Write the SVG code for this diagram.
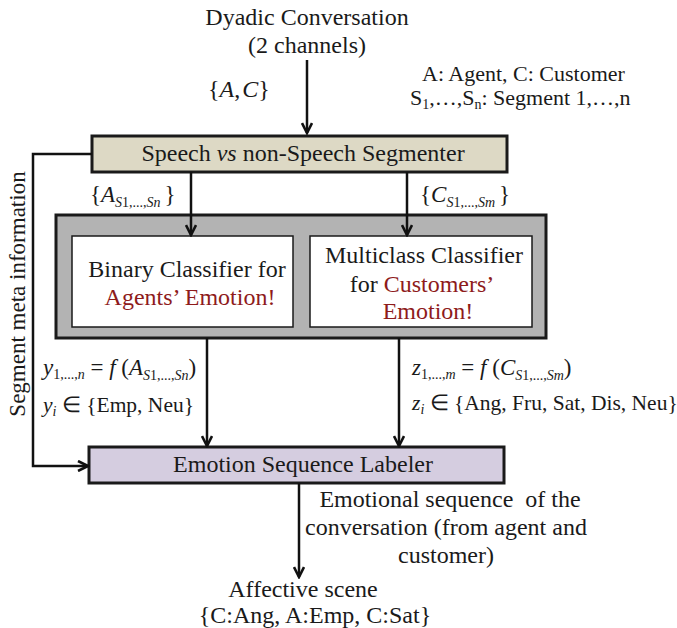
<svg xmlns="http://www.w3.org/2000/svg" width="677" height="628" viewBox="0 0 677 628">
  <style>
    text { font-family: "Liberation Serif", "Times New Roman", serif; font-size: 24px; fill: #1a1a1a; }
    .sm { font-size: 22px; }
    .md { font-size: 23px; }
    .el { font-size: 21.5px; }
    .it { font-style: italic; }
    .sub { font-size: 14px; }
    .red { fill: #8e1b1b; }
    .conn { fill: none; stroke: #111; stroke-width: 2.5; }
    .thick { stroke: #1a1a1a; stroke-width: 3; }
  </style>
  <defs>
    <marker id="arrow" viewBox="0 0 14 12" refX="12" refY="6" markerWidth="14" markerHeight="12" markerUnits="userSpaceOnUse" orient="auto">
      <polyline points="2,1 12,6 2,11" fill="none" stroke="#111" stroke-width="2.6"/>
    </marker>
  </defs>

  <!-- inputs and legend -->
  <g id="input">
    <text x="307" y="25" text-anchor="middle">Dyadic Conversation</text>
    <text x="307" y="53" text-anchor="middle">(2 channels)</text>
    <text x="208" y="97">{<tspan class="it">A</tspan>,<tspan class="it" dx="2">C</tspan>}</text>
  </g>
  <g id="legend">
    <text class="sm" x="422" y="81">A: Agent, C: Customer</text>
    <text class="sm" x="410" y="105">S<tspan class="sub" dy="4">1</tspan><tspan dy="-4">,…,S</tspan><tspan class="sub" dy="4">n</tspan><tspan dy="-4">: Segment 1,…,n</tspan></text>
  </g>

  <!-- segmenter -->
  <g id="segmenter">
    <rect x="92" y="136" width="415" height="36" fill="#ddd9c5" class="thick"/>
    <text x="303" y="161" text-anchor="middle">Speech <tspan class="it">vs</tspan> non-Speech Segmenter</text>
  </g>

  <!-- classifiers -->
  <g id="classifiers">
    <rect x="56" y="215" width="490" height="123" fill="#b3b3b3" class="thick"/>
    <g id="binary">
      <rect x="72" y="236" width="221" height="91" fill="#fff" stroke="#1a1a1a" stroke-width="1.5"/>
      <text x="187" y="277" text-anchor="middle">Binary Classifier for</text>
      <text x="190" y="305" text-anchor="middle" class="red">Agents’ Emotion!</text>
    </g>
    <g id="multiclass">
      <rect x="310" y="236" width="222" height="91" fill="#fff" stroke="#1a1a1a" stroke-width="1.5"/>
      <text x="424" y="263" text-anchor="middle">Multiclass Classifier</text>
      <text x="422" y="292" text-anchor="middle">for <tspan class="red">Customers’</tspan></text>
      <text x="428" y="319" text-anchor="middle" class="red">Emotion!</text>
    </g>
  </g>

  <!-- labeler -->
  <g id="labeler">
    <rect x="89" y="447" width="415" height="36" fill="#d5cde0" class="thick"/>
    <text x="303" y="472" text-anchor="middle">Emotion Sequence Labeler</text>
  </g>

  <!-- output -->
  <g id="output">
    <text x="303" y="597" text-anchor="middle">Affective scene</text>
    <text x="315" y="623" text-anchor="middle">{C:Ang, A:Emp, C:Sat}</text>
  </g>

  <!-- connectors -->
  <g id="connectors">
    <path class="conn" d="M307,60 V133" marker-end="url(#arrow)"/>
    <path class="conn" d="M191,172 V235" marker-end="url(#arrow)"/>
    <path class="conn" d="M407,172 V235" marker-end="url(#arrow)"/>
    <path class="conn" d="M207,338 V446" marker-end="url(#arrow)"/>
    <path class="conn" d="M399,338 V446" marker-end="url(#arrow)"/>
    <path class="conn" d="M299,483 V577" marker-end="url(#arrow)"/>
    <path class="conn" d="M92,154 H33 V466 H88" stroke-width="3" marker-end="url(#arrow)"/>
  </g>

  <!-- connector labels -->
  <g id="labels">
    <text class="md" x="90" y="202">{<tspan class="it">A</tspan><tspan class="sub it" dy="5">S</tspan><tspan class="sub">1,...,</tspan><tspan class="sub it">Sn</tspan><tspan dy="-5" dx="4">}</tspan></text>
    <text class="md" x="420" y="202">{<tspan class="it">C</tspan><tspan class="sub it" dy="5">S</tspan><tspan class="sub">1,...,</tspan><tspan class="sub it">Sm</tspan><tspan dy="-5" dx="4">}</tspan></text>
    <text class="md" x="43" y="375"><tspan class="it">y</tspan><tspan class="sub" dy="4">1,...,</tspan><tspan class="sub it">n</tspan><tspan dy="-4"> = </tspan><tspan class="it">f</tspan> (<tspan class="it">A</tspan><tspan class="sub it" dy="5">S</tspan><tspan class="sub">1,...,</tspan><tspan class="sub it">Sn</tspan><tspan dy="-5">)</tspan></text>
    <text class="el" x="43" y="412"><tspan class="it">y</tspan><tspan class="sub it" dy="4">i</tspan><tspan dy="-4"> ∈ {Emp, Neu}</tspan></text>
    <text class="md" x="412" y="375"><tspan class="it">z</tspan><tspan class="sub" dy="4">1,...,</tspan><tspan class="sub it">m</tspan><tspan dy="-4"> = </tspan><tspan class="it">f</tspan> (<tspan class="it">C</tspan><tspan class="sub it" dy="5">S</tspan><tspan class="sub">1,...,</tspan><tspan class="sub it">Sm</tspan><tspan dy="-5">)</tspan></text>
    <text class="el" x="412" y="410"><tspan class="it">z</tspan><tspan class="sub it" dy="4">i</tspan><tspan dy="-4"> ∈ {Ang, Fru, Sat, Dis, Neu}</tspan></text>
    <text x="450" y="507" text-anchor="middle" xml:space="preserve">Emotional sequence  of the</text>
    <text x="446" y="535" text-anchor="middle">conversation (from agent and</text>
    <text x="446" y="563" text-anchor="middle">customer)</text>
    <text class="md" x="0" y="0" transform="translate(25,294) rotate(-90)" text-anchor="middle">Segment meta information</text>
  </g>
</svg>
